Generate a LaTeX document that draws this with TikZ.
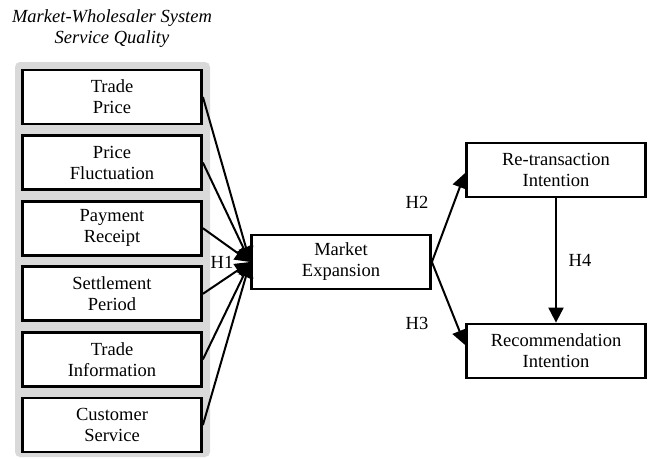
\documentclass[tikz,border=0pt]{standalone}
\usepackage{fontspec}
\setmainfont{Liberation Serif}
\usetikzlibrary{arrows.meta}
\tikzstyle{factor}=[rectangle,draw,line width=2.8pt,minimum width=179pt,minimum height=54pt,inner sep=0pt,align=center,fill=white,font=\fontsize{18.5}{21}\selectfont]
\tikzstyle{hyp}=[line width=2pt,-{Triangle[length=15pt,width=15pt]}]
\tikzstyle{lbl}=[inner sep=0pt,align=center,font=\fontsize{18.5}{21}\selectfont]

\begin{document}
\begin{tikzpicture}[x=1pt,y=-1pt]
        \useasboundingbox (0,0) rectangle (650,458);
        \node[lbl,font=\fontsize{18.5}{21}\selectfont\itshape] (title) at (112,29) {Market-Wholesaler System\\Service Quality};
        \fill[gray!30,rounded corners=5pt] (15,62) rectangle (210,457);
        \foreach \t [count=\i] in {Trade\\Price,Price\\Fluctuation,Payment\\Receipt,Settlement\\Period,Trade\\Information,Customer\\Service}
            \node[factor] (q\i) at (112,{97+65.6*(\i-1)}) {\t};
        \node[factor] (me) at (341,262) {Market\\Expansion};
        \node[factor] (rt) at (556,170) {Re-transaction\\Intention};
        \node[factor] (ri) at (556,351) {Recommendation\\Intention};
        \foreach \i in {1,...,6}
            \draw[hyp] (q\i.east) -- (me.west);
        \draw[hyp] (me.east) -- ([yshift=-3pt]rt.west);
        \draw[hyp] (me.east) -- ([yshift=6pt]ri.west);
        \draw[hyp] (rt) -- (ri);
        \node[lbl] (h1) at (222,262) {H1};
        \node[lbl] (h2) at (417,202) {H2};
        \node[lbl] (h3) at (417,323) {H3};
        \node[lbl] (h4) at (580,260) {H4};
\end{tikzpicture}
\end{document}
